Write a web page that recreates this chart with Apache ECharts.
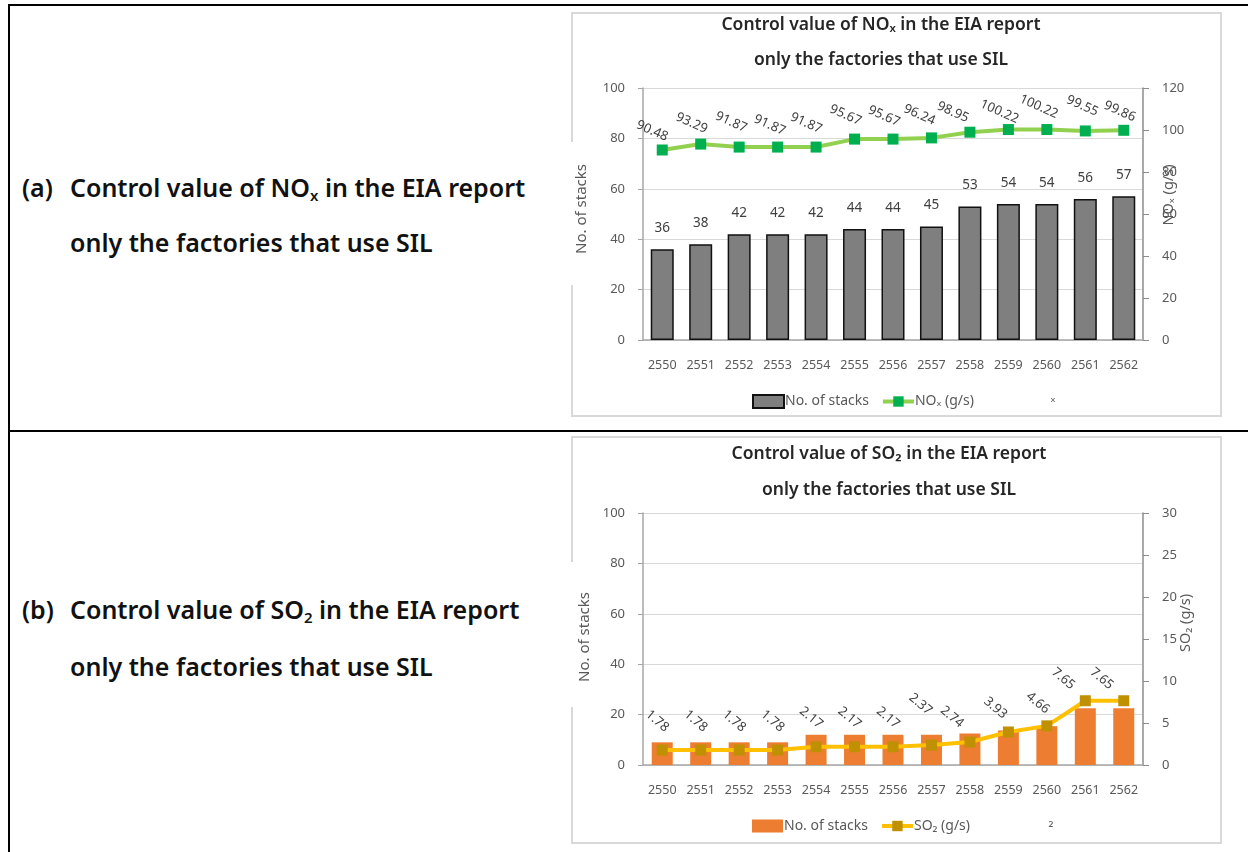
<!DOCTYPE html>
<html>
<head>
<meta charset="utf-8">
<script src="https://cdn.jsdelivr.net/npm/echarts@6/dist/echarts.min.js"></script>
<style>
  html, body { margin: 0; padding: 0; background: #fff; }
  body { width: 1248px; height: 852px; position: relative; overflow: hidden; font-family: 'Noto Sans', 'DejaVu Sans', sans-serif; }
  .rule { position: absolute; background: #000; }
  .box { position: absolute; border: 2px solid #d9d9d9; box-sizing: border-box; }
  .chart { position: absolute; }
  .patch { position: absolute; background: #fff; }
  .cap { position: absolute; font-size: 25px; font-weight: 600; color: #111; line-height: 28px; white-space: nowrap; }
  .cap sub { font-size: 15px; vertical-align: -4px; line-height: 0; }
</style>
</head>
<body>
<div class="rule" style="left:8px;top:4px;width:1240px;height:2px"></div>
<div class="rule" style="left:8px;top:4px;width:2px;height:848px"></div>
<div class="rule" style="left:8px;top:430px;width:1240px;height:2px"></div>

<div class="cap" style="left:22px;top:173px">(a)</div>
<div class="cap" style="left:70px;top:173px">Control value of NO<sub>x</sub> in the EIA report</div>
<div class="cap" style="left:70px;top:228px">only the factories that use SIL</div>

<div class="cap" style="left:22px;top:595px">(b)</div>
<div class="cap" style="left:70px;top:595px">Control value of SO<sub>2</sub> in the EIA report</div>
<div class="cap" style="left:70px;top:652px">only the factories that use SIL</div>

<div class="box" style="left:571px;top:12px;width:651px;height:405px"></div>
<div class="box" style="left:571px;top:436px;width:651px;height:408px"></div>
<div class="patch" style="left:569px;top:142px;width:6px;height:143px"></div>
<div class="patch" style="left:569px;top:562px;width:6px;height:145px"></div>

<div id="chartA" class="chart" style="left:571px;top:13px;width:650px;height:403px"></div>
<div id="chartB" class="chart" style="left:571px;top:437px;width:650px;height:406px"></div>

<script>
// ---------------- data ----------------
const years = ['2550','2551','2552','2553','2554','2555','2556','2557','2558','2559','2560','2561','2562'];
const stacksNOx = [36, 38, 42, 42, 42, 44, 44, 45, 53, 54, 54, 56, 57];
const noxValues = [90.48, 93.29, 91.87, 91.87, 91.87, 95.67, 95.67, 96.24, 98.95, 100.22, 100.22, 99.55, 99.86];
const stacksSO2 = [9, 9, 9, 9, 12, 12, 12, 12, 12.5, 13.7, 15.4, 22.5, 22.5];
const so2Values = [1.78, 1.78, 1.78, 1.78, 2.17, 2.17, 2.17, 2.37, 2.74, 3.93, 4.66, 7.65, 7.65];
const stackAxis = { min: 0, max: 100, interval: 20 };
const noxAxis = { min: 0, max: 120, interval: 20 };
const so2Axis = { min: 0, max: 30, interval: 5 };

// ---------------- style (label placement relative to marker) ----------------
const noxLabelShift = [[-10,-19],[-9,-21],[-8,-25],[-8,-22],[-10,-24],[-9,-24],[-9,-23],[-12,-23],[-17,-20],[-9,-18],[-8,-23],[-3,-25],[-4,-19]];
const so2LabelShift = [[-5,-29],[-5,-29],[-5,-29],[-5,-29],[-5,-29],[-5,-29],[-5,-29],[-11,-41],[-18,-25],[-13,-24],[-9,-23],[-22,-22],[-22,-22]];

const FONT = "'Noto Sans', 'DejaVu Sans', sans-serif";
const SYM = 11;

function makeOption(cfg) {
  const lineData = cfg.lineValues.map((v, i) => ({
    value: v,
    label: { position: [SYM / 2 + cfg.shift[i][0], SYM / 2 + cfg.shift[i][1]] }
  }));
  const titleFont = '600 17.5px ' + FONT;
  return {
    animation: false,
    textStyle: { fontFamily: FONT },
    grid: { left: 72, width: 500, top: cfg.gridTop, height: 252, containLabel: false },
    legend: {
      left: 176, top: cfg.legendTop,
      itemWidth: 31, itemHeight: 13, itemGap: 12,
      textStyle: { fontSize: 14, color: '#595959', fontFamily: FONT, padding: [0, 0, 0, -4] },
      data: [
        { name: 'No. of stacks', icon: 'rect' },
        { name: cfg.lineName, lineStyle: { width: 4, color: cfg.lineColor } }
      ]
    },
    xAxis: {
      type: 'category', data: years,
      axisLine: { lineStyle: { color: '#a6a6a6', width: 1.5 } },
      axisTick: { show: false },
      axisLabel: { color: '#595959', fontSize: 12.5, margin: 19, interval: 0, hideOverlap: false, fontFamily: FONT }
    },
    yAxis: [
      {
        type: 'value', min: stackAxis.min, max: stackAxis.max, interval: stackAxis.interval,
        axisLine: { show: true, lineStyle: { color: '#a6a6a6', width: 1.5 } },
        axisTick: { show: true, length: 5, lineStyle: { color: '#a6a6a6' } },
        splitLine: { lineStyle: { color: '#d9d9d9', width: 1 } },
        axisLabel: { color: '#595959', fontSize: 13, margin: 18, fontFamily: FONT }
      },
      {
        type: 'value', position: 'right', min: cfg.rightAxis.min, max: cfg.rightAxis.max, interval: cfg.rightAxis.interval,
        axisLine: { show: true, lineStyle: { color: '#8c8c8c', width: 1.5 } },
        axisTick: { show: true, length: 6, lineStyle: { color: '#8c8c8c' } },
        splitLine: { show: false },
        axisLabel: { color: '#595959', fontSize: 13, margin: 19, fontFamily: FONT }
      }
    ],
    series: [
      {
        name: 'No. of stacks', type: 'bar', data: cfg.barValues, barWidth: cfg.barWidth, yAxisIndex: 0,
        itemStyle: cfg.barStyle,
        label: cfg.barLabel ? { show: true, position: 'top', distance: 14, color: '#404040', fontSize: 13.5, fontFamily: FONT } : { show: false },
        z: 2
      },
      {
        name: cfg.lineName, type: 'line', data: lineData, yAxisIndex: 1,
        symbol: 'rect', symbolSize: SYM,
        lineStyle: { color: cfg.lineColor, width: 4 },
        itemStyle: { color: cfg.markerColor },
        label: {
          show: true, align: 'center', verticalAlign: 'middle', rotate: cfg.labelRotate,
          color: '#404040', fontSize: 13, fontFamily: FONT
        },
        z: 5
      }
    ],
    graphic: [
      { type: 'text', x: cfg.titleX, y: cfg.titleY1, style: { text: cfg.title1, font: titleFont, fill: '#262626', textAlign: 'center', textVerticalAlign: 'middle' } },
      { type: 'text', x: cfg.titleX, y: cfg.titleY2, style: { text: 'only the factories that use SIL', font: titleFont, fill: '#262626', textAlign: 'center', textVerticalAlign: 'middle' } },
      { type: 'text', x: cfg.leftName[0], y: cfg.leftName[1], rotation: Math.PI / 2, style: { text: 'No. of stacks', font: '15px ' + FONT, fill: '#595959', textAlign: 'center', textVerticalAlign: 'middle' } },
      { type: 'text', x: cfg.rightName[0], y: cfg.rightName[1], rotation: Math.PI / 2, style: { text: cfg.lineName, font: '14.5px ' + FONT, fill: '#595959', textAlign: 'center', textVerticalAlign: 'middle' } },
      { type: 'text', x: cfg.stray[0], y: cfg.stray[1], style: { text: cfg.stray[2], font: '14px ' + FONT, fill: '#595959', textAlign: 'center', textVerticalAlign: 'middle' } }
    ]
  };
}

const chartA = echarts.init(document.getElementById('chartA'), null, { renderer: 'canvas' });
chartA.setOption(makeOption({
  gridTop: 75, legendTop: 376,
  barValues: stacksNOx, lineValues: noxValues, shift: noxLabelShift,
  lineName: 'NOₓ (g/s)', rightAxis: noxAxis,
  barWidth: 23, barStyle: { color: '#7f7f7f', borderColor: '#111', borderWidth: 1.5 }, barLabel: true,
  lineColor: '#92d050', markerColor: '#00b050', labelRotate: -24,
  title1: 'Control value of NOₓ in the EIA report', titleX: 310, titleY1: 12, titleY2: 47,
  leftName: [11, 196], rightName: [598, 182], stray: [482, 384, 'ₓ']
}));

const chartB = echarts.init(document.getElementById('chartB'), null, { renderer: 'canvas' });
chartB.setOption(makeOption({
  gridTop: 76, legendTop: 377,
  barValues: stacksSO2, lineValues: so2Values, shift: so2LabelShift,
  lineName: 'SO₂ (g/s)', rightAxis: so2Axis,
  barWidth: 21, barStyle: { color: '#ed7d31' }, barLabel: false,
  lineColor: '#ffc000', markerColor: '#bf9000', labelRotate: -40,
  title1: 'Control value of SO₂ in the EIA report', titleX: 318, titleY1: 17, titleY2: 53,
  leftName: [14, 200], rightName: [615, 186], stray: [480, 384, '₂']
}));
</script>
</body>
</html>
